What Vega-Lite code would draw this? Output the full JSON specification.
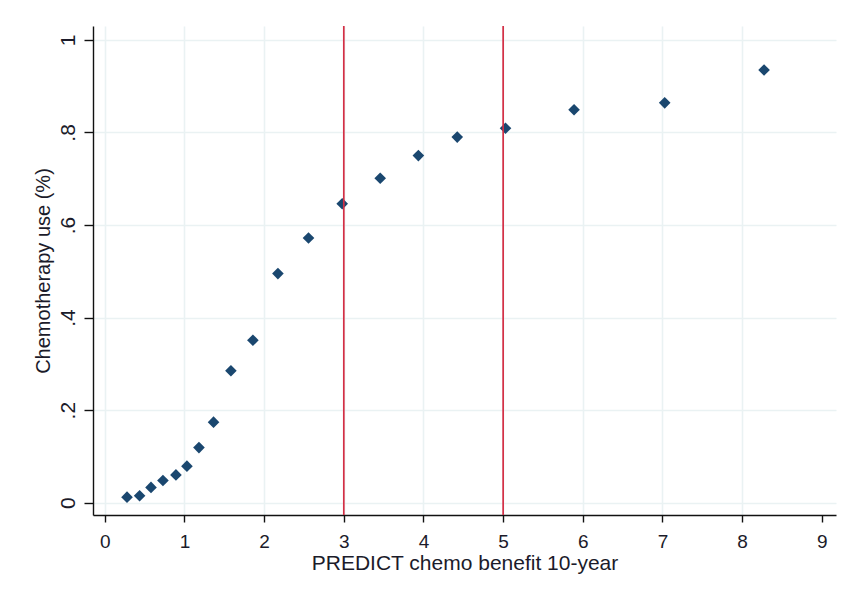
{
  "$schema": "https://vega.github.io/schema/vega-lite/v6.json",
  "autosize": "none",
  "width": 743,
  "height": 489,
  "padding": {"left": 93, "top": 26, "right": 9, "bottom": 79},
  "background": "white",
  "config": {
    "view": {"stroke": null},
    "font": "Liberation Sans",
    "axis": {
      "domainColor": "#111111",
      "domainWidth": 1.4,
      "tickColor": "#111111",
      "tickWidth": 1.4,
      "labelColor": "#1b1b2a",
      "titleColor": "#1b1b2a",
      "labelFont": "Liberation Sans",
      "titleFont": "Liberation Sans",
      "titleFontWeight": "normal",
      "gridColor": "#EAF2F3",
      "gridWidth": 1.6
    }
  },
  "datasets": {
    "points": [
      {"benefit": 0.279, "use": 0.012},
      {"benefit": 0.437, "use": 0.015},
      {"benefit": 0.580, "use": 0.033},
      {"benefit": 0.730, "use": 0.048},
      {"benefit": 0.893, "use": 0.060},
      {"benefit": 1.031, "use": 0.079},
      {"benefit": 1.182, "use": 0.119},
      {"benefit": 1.365, "use": 0.174},
      {"benefit": 1.583, "use": 0.285},
      {"benefit": 1.859, "use": 0.351},
      {"benefit": 2.173, "use": 0.495},
      {"benefit": 2.557, "use": 0.572},
      {"benefit": 2.980, "use": 0.646},
      {"benefit": 3.457, "use": 0.701},
      {"benefit": 3.936, "use": 0.750},
      {"benefit": 4.424, "use": 0.790},
      {"benefit": 5.030, "use": 0.809},
      {"benefit": 5.890, "use": 0.849},
      {"benefit": 7.028, "use": 0.864},
      {"benefit": 8.275, "use": 0.935}
    ],
    "cutoffs": [
      {"benefit": 3},
      {"benefit": 5}
    ]
  },
  "layer": [
    {
      "description": "light frame around the whole graph region",
      "mark": {"type": "rect", "fill": null, "stroke": "#EAF2F3", "strokeWidth": 2, "clip": false},
      "encoding": {
        "x": {"datum": -1.223, "type": "quantitative", "scale": {"domain": [-0.148, 9.178], "nice": false, "zero": false}},
        "x2": {"datum": 9.6},
        "y": {"datum": 1.0756, "type": "quantitative", "scale": {"domain": [-0.0266, 1.030], "nice": false, "zero": false}},
        "y2": {"datum": -0.1955}
      }
    },
    {
      "data": {"name": "points"},
      "mark": {"type": "point", "shape": "diamond", "filled": true, "size": 135, "color": "#1A476F", "opacity": 1},
      "encoding": {
        "x": {
          "field": "benefit",
          "type": "quantitative",
          "scale": {"domain": [-0.148, 9.178], "nice": false, "zero": false},
          "axis": {
            "values": [0, 1, 2, 3, 4, 5, 6, 7, 8, 9],
            "format": "d",
            "title": "PREDICT chemo benefit 10-year",
            "titleFontSize": 21,
            "titleY": 54,
            "titleBaseline": "alphabetic",
            "labelFontSize": 19,
            "labelBaseline": "alphabetic",
            "tickSize": 7,
            "labelPadding": 25,
            "labelFlush": false,
            "labelOverlap": false,
            "grid": true,
            "gridColor": {"condition": {"test": "datum.value > 8.5", "value": "transparent"}, "value": "#EAF2F3"}
          }
        },
        "y": {
          "field": "use",
          "type": "quantitative",
          "scale": {"domain": [-0.0266, 1.030], "nice": false, "zero": false},
          "axis": {
            "values": [0, 0.2, 0.4, 0.6, 0.8, 1],
            "labelExpr": "datum.value < 0.05 ? '0' : datum.value > 0.95 ? '1' : '.' + format(datum.value * 10, '.0f')",
            "title": "Chemotherapy use (%)",
            "titleFontSize": 20,
            "titleAngle": -90,
            "titleAlign": "center",
            "titleBaseline": "alphabetic",
            "titleX": -44,
            "labelFontSize": 21,
            "labelAngle": -90,
            "labelAlign": "center",
            "labelBaseline": "alphabetic",
            "tickSize": 9,
            "labelPadding": 10,
            "labelFlush": false,
            "labelOverlap": false,
            "grid": true
          }
        }
      }
    },
    {
      "data": {"name": "cutoffs"},
      "mark": {"type": "rule", "color": "#D42F45", "strokeWidth": 1.7},
      "encoding": {
        "x": {"field": "benefit", "type": "quantitative"}
      }
    }
  ]
}
